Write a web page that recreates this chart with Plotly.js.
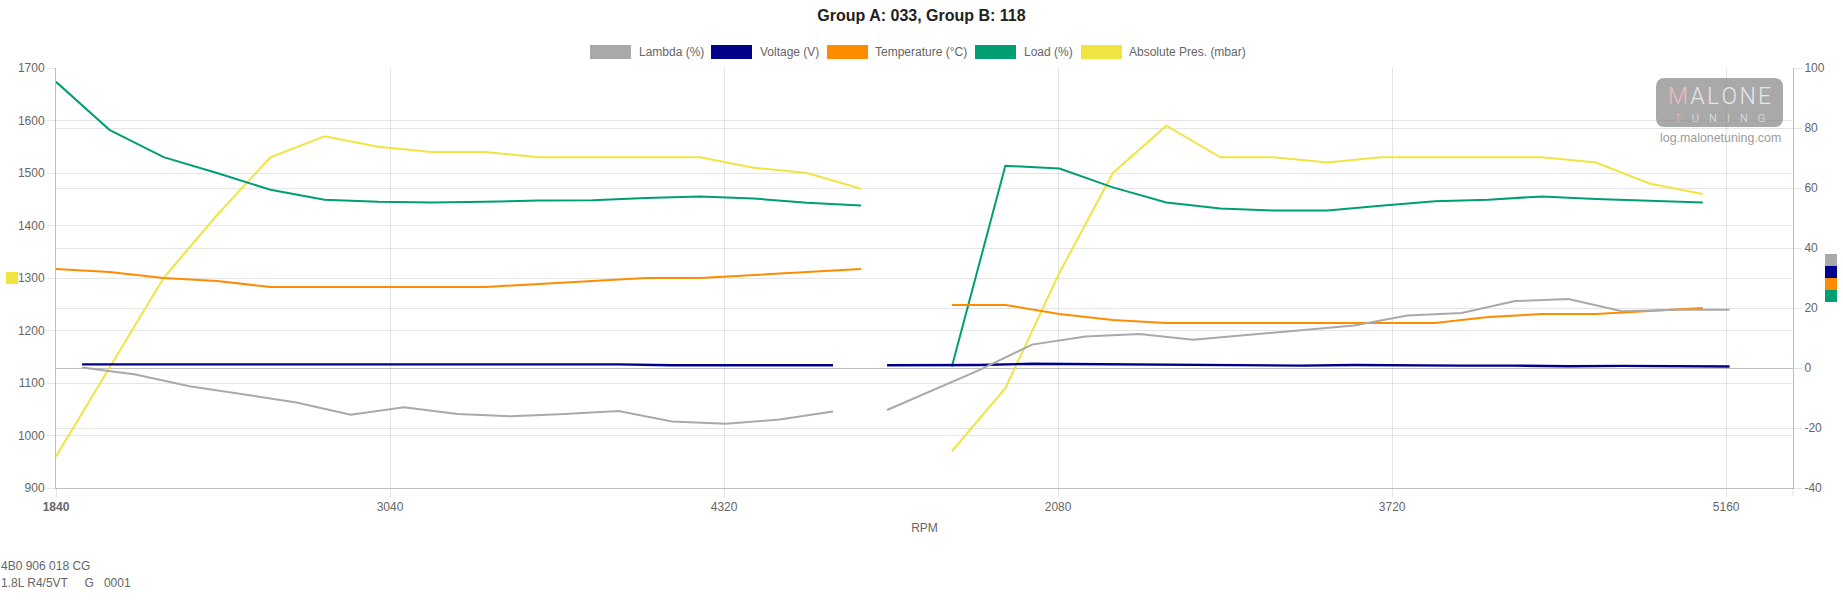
<!DOCTYPE html>
<html>
<head>
<meta charset="utf-8">
<script src="https://cdn.plot.ly/plotly-3.0.1.min.js"></script>
<style>html,body{margin:0;padding:0;background:#fff;}#chart{width:1843px;height:600px;}</style>
</head>
<body>
<div id="chart"></div>
<script>
// ---- data (time in seconds, RPM used as tick labels) ----
const tickTimes  = [0, 5, 10, 15, 20, 25];
const tickLabels = ['<b>1840</b>', '3040', '4320', '2080', '3720', '5160'];

// Group A samples (Lambda, Voltage); null separates the two blocks
const timeA   = [0.39, 1.19, 2.00, 2.80, 3.60, 4.41, 5.21, 6.01, 6.81, 7.62, 8.42, 9.22, 10.03, 10.83, 11.63, 12.00,
                 12.44, 13.81, 14.61, 15.41, 16.22, 17.02, 17.82, 18.63, 19.43, 20.23, 21.04, 21.84, 22.64, 23.44, 24.25, 25.05];
const lambda  = [0.2, -2.2, -6.1, -8.9, -11.5, -15.6, -13.1, -15.3, -16.1, -15.3, -14.3, -17.8, -18.6, -17.2, -14.5, null,
                 -14.0, -0.8, 7.8, 10.5, 11.3, 9.4, 11.0, 12.5, 14.2, 17.5, 18.3, 22.3, 23.0, 18.9, 19.4, 19.4];
const voltage = [1.2, 1.2, 1.2, 1.2, 1.2, 1.2, 1.2, 1.2, 1.2, 1.2, 1.2, 0.9, 0.9, 0.9, 0.9, null,
                 0.9, 1.0, 1.4, 1.3, 1.1, 1.1, 1.1, 0.8, 1.0, 0.8, 0.8, 0.8, 0.6, 0.7, 0.5, 0.5];

// Group B samples (Temperature, Load, Absolute Pressure)
const timeB   = [0.00, 0.80, 1.61, 2.41, 3.21, 4.02, 4.82, 5.62, 6.42, 7.23, 8.03, 8.83, 9.64, 10.44, 11.24, 12.05,
                 12.70, 13.41, 14.21, 15.02, 15.82, 16.62, 17.43, 18.23, 19.03, 19.83, 20.64, 21.44, 22.24, 23.05, 23.85, 24.65];
const temperature = [33, 32, 30, 29, 27, 27, 27, 27, 27, 28, 29, 30, 30, 31, 32, 33, null,
                     21, 21, 18, 16, 15, 15, 15, 15, 15, 15, 17, 18, 18, 19, 20];
const load    = [95.4, 79.4, 70.3, 65.0, 59.4, 56.1, 55.4, 55.2, 55.4, 55.8, 55.9, 56.7, 57.2, 56.5, 55.1, 54.2, null,
                 0.5, 67.4, 66.5, 60.2, 55.2, 53.2, 52.5, 52.5, 54.1, 55.6, 56.1, 57.2, 56.3, 55.7, 55.2];
const absPres = [960, 1130, 1300, 1420, 1530, 1570, 1550, 1540, 1540, 1530, 1530, 1530, 1530, 1510, 1500, 1470, null,
                 970, 1090, 1310, 1500, 1590, 1530, 1530, 1520, 1530, 1530, 1530, 1530, 1520, 1480, 1460];

const leftTicks  = [900, 1000, 1100, 1200, 1300, 1400, 1500, 1600, 1700];
const rightTicks = [-40, -20, 0, 20, 40, 60, 80, 100];
const rightTickLabels = ['-40', '-20', '0', '20', '40', '60', '80', '100'];

const seriesNames  = ['Lambda (%)', 'Voltage (V)', 'Temperature (°C)', 'Load (%)', 'Absolute Pres. (mbar)'];
const seriesColors = ['#a9a9a9', '#00008b', '#ff8c00', '#009e73', '#f0e442'];

const titleText = 'Group A: 033, Group B: 118';
const footerLines = ['4B0 906 018 CG', '1.8L R4/5VT\u00a0\u00a0\u00a0\u00a0\u00a0G\u00a0\u00a0\u00a00001'];

// ---- layout helpers (pixel -> paper) ----
const W = 1843, H = 600;
const PL = 56, PR = 1793, PT = 68, PB = 488;
const xp = px => (px - PL) / (PR - PL);
const yp = py => (PB - py) / (PB - PT);

const FONT = 'Liberation Sans, Arial, Helvetica, sans-serif';
const GRID = 'rgba(0,0,0,0.1)';
const AXIS = 'rgba(0,0,0,0.25)';

// traces: drawn bottom -> top (first dataset on top, like the source)
const traces = [
  {x: timeB, y: absPres,     name: seriesNames[4], yaxis: 'y',  line: {color: seriesColors[4], width: 2}},
  {x: timeB, y: load,        name: seriesNames[3], yaxis: 'y2', line: {color: seriesColors[3], width: 2}},
  {x: timeB, y: temperature, name: seriesNames[2], yaxis: 'y2', line: {color: seriesColors[2], width: 2}},
  {x: timeA, y: voltage,     name: seriesNames[1], yaxis: 'y2', line: {color: seriesColors[1], width: 2.4}},
  {x: timeA, y: lambda,      name: seriesNames[0], yaxis: 'y2', line: {color: seriesColors[0], width: 2}}
].map(t => Object.assign({type: 'scatter', mode: 'lines', connectgaps: false, showlegend: false, hoverinfo: 'skip'}, t));

// legend (boxes like the source)
const legendBoxLeft  = [590, 711, 827, 975, 1081];
const legendTextLeft = [637, 758, 873, 1022, 1127];
const shapes = [];
const annotations = [];
seriesNames.forEach((n, i) => {
  shapes.push({type: 'rect', xref: 'paper', yref: 'paper',
    x0: xp(legendBoxLeft[i]), x1: xp(legendBoxLeft[i] + 41), y0: yp(59), y1: yp(45),
    fillcolor: seriesColors[i], line: {width: 0}});
  annotations.push({xref: 'paper', yref: 'paper', x: xp(legendTextLeft[i]), y: yp(52),
    xanchor: 'left', yanchor: 'middle', showarrow: false, text: n,
    font: {family: FONT, size: 12, color: '#666'}});
});

// axis colour markers
shapes.push({type: 'rect', xref: 'paper', yref: 'paper', x0: xp(6), x1: xp(18), y0: yp(284), y1: yp(272),
  fillcolor: seriesColors[4], line: {width: 0}});
[0, 1, 2, 3].forEach(i => {
  shapes.push({type: 'rect', xref: 'paper', yref: 'paper', x0: xp(1825), x1: xp(1837),
    y0: yp(266 + 12 * i), y1: yp(254 + 12 * i), fillcolor: seriesColors[i], line: {width: 0}});
});

// watermark rounded box
(function () {
  const x0 = 1656, x1 = 1783, y0 = 78, y1 = 127, r = 9;
  const P = (x, y) => xp(x).toFixed(5) + ',' + yp(y).toFixed(5);
  const path = 'M' + P(x0 + r, y0) + ' L' + P(x1 - r, y0) + ' Q' + P(x1, y0) + ' ' + P(x1, y0 + r) +
    ' L' + P(x1, y1 - r) + ' Q' + P(x1, y1) + ' ' + P(x1 - r, y1) +
    ' L' + P(x0 + r, y1) + ' Q' + P(x0, y1) + ' ' + P(x0, y1 - r) +
    ' L' + P(x0, y0 + r) + ' Q' + P(x0, y0) + ' ' + P(x0 + r, y0) + ' Z';
  shapes.push({type: 'path', xref: 'paper', yref: 'paper', path: path,
    fillcolor: 'rgba(128,128,128,0.68)', line: {width: 0}});
})();
const HS = '\u200a';
const SP = '\u2002\u2009\u2009';
annotations.push({xref: 'paper', yref: 'paper', x: xp(1719.5), y: yp(96.5), xanchor: 'center', yanchor: 'middle',
  showarrow: false, borderpad: 0,
  text: '<span style="color:#f0b8c0">M</span>' + HS + 'A' + HS + 'L' + HS + 'O' + HS + 'N' + HS + 'E',
  font: {family: 'Roboto, sans-serif', size: 23, color: '#e6e6e6', weight: 300}});
annotations.push({xref: 'paper', yref: 'paper', x: xp(1719.5), y: yp(118), xanchor: 'center', yanchor: 'middle',
  showarrow: false, borderpad: 0,
  text: '<span style="color:#f0b8c0">T</span>' + SP + 'U' + SP + 'N' + SP + 'I' + SP + 'N' + SP + 'G',
  font: {family: 'Roboto, sans-serif', size: 11, color: '#e6e6e6', weight: 300}});
annotations.push({xref: 'paper', yref: 'paper', x: xp(1720), y: yp(137.5), xanchor: 'center', yanchor: 'middle',
  showarrow: false, borderpad: 0, text: 'log.malonetuning.com', font: {family: FONT, size: 12.4, color: '#9c9c9c'}});

// footer
annotations.push({xref: 'paper', yref: 'paper', x: xp(0), y: yp(565.5), xanchor: 'left', yanchor: 'middle',
  showarrow: false, text: footerLines[0], borderpad: 0, font: {family: FONT, size: 12, color: '#666'}});
annotations.push({xref: 'paper', yref: 'paper', x: xp(0), y: yp(583), xanchor: 'left', yanchor: 'middle',
  showarrow: false, text: footerLines[1], borderpad: 0, font: {family: FONT, size: 12, color: '#666'}});

// right axis line extension below the plot
shapes.push({type: 'line', xref: 'paper', yref: 'paper', x0: 1, x1: 1, y0: 0, y1: yp(PB + 8),
  line: {color: GRID, width: 1}});

const tickFont = {family: FONT, size: 12, color: '#666'};
const layout = {
  width: W, height: H,
  margin: {l: PL, r: W - PR, t: PT, b: H - PB, pad: 0},
  paper_bgcolor: '#fff', plot_bgcolor: '#fff',
  showlegend: false, hovermode: false,
  font: {family: FONT, color: '#666'},
  title: {text: '<b>' + titleText + '</b>', x: 0.5, xref: 'container', xanchor: 'center',
    y: 1 - 15.5 / H, yref: 'container', yanchor: 'middle',
    font: {family: FONT, size: 16, color: '#222'}},
  xaxis: {
    range: [0, 26], tickmode: 'array', tickvals: tickTimes, ticktext: tickLabels,
    showgrid: true, gridcolor: GRID, zeroline: false,
    ticks: 'outside', ticklen: 8, tickcolor: GRID,
    showline: true, linecolor: AXIS, linewidth: 1,
    tickfont: tickFont,
    title: {text: 'RPM', font: {family: FONT, size: 12, color: '#666'}, standoff: 10}
  },
  yaxis: {
    range: [900, 1700], tickmode: 'array', tickvals: leftTicks,
    showgrid: true, gridcolor: GRID, zeroline: false,
    ticks: 'outside', ticklen: 8, tickcolor: GRID,
    showline: true, linecolor: AXIS, linewidth: 1,
    tickfont: tickFont
  },
  yaxis2: {
    overlaying: 'y', side: 'right',
    range: [-40, 100], tickmode: 'array', tickvals: rightTicks, ticktext: rightTickLabels,
    showgrid: true, gridcolor: GRID,
    zeroline: true, zerolinecolor: AXIS, zerolinewidth: 1,
    ticks: 'outside', ticklen: 8, tickcolor: GRID,
    showline: true, linecolor: AXIS, linewidth: 1,
    tickfont: tickFont
  },
  shapes: shapes,
  annotations: annotations
};

Plotly.newPlot('chart', traces, layout, {displayModeBar: false, staticPlot: true});
</script>
</body>
</html>
